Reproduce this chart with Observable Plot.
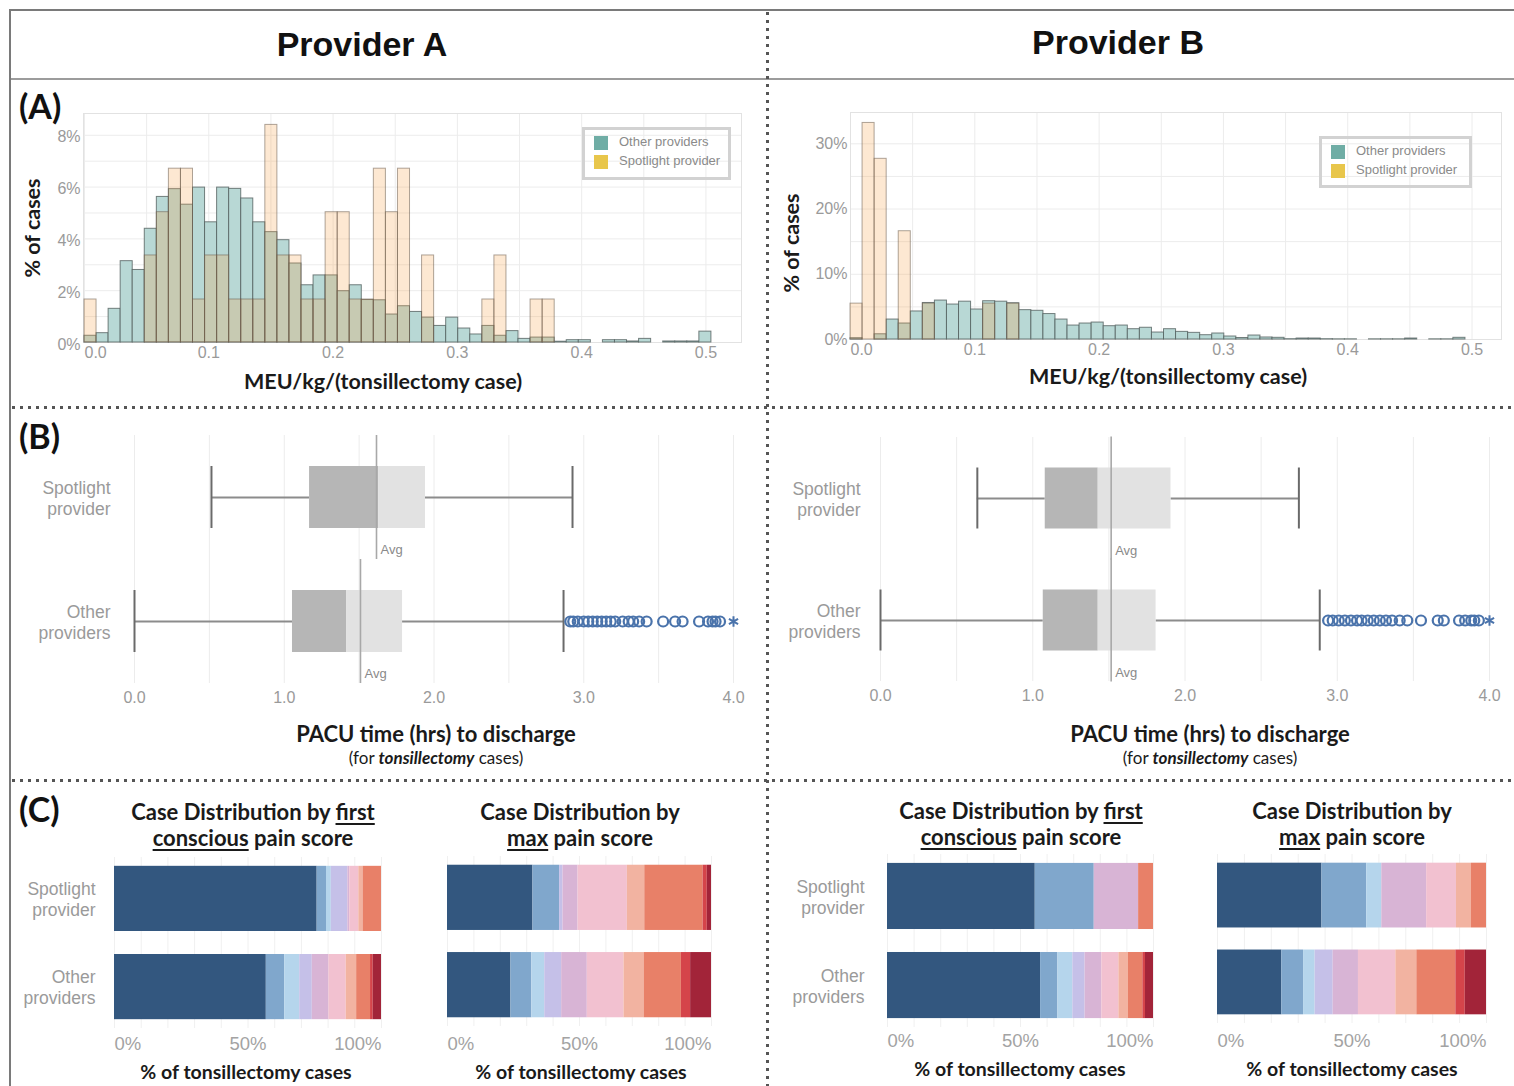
<!DOCTYPE html>
<html><head><meta charset="utf-8">
<script src="https://cdn.jsdelivr.net/npm/d3@7"></script>
<script src="https://cdn.jsdelivr.net/npm/@observablehq/plot@0.6"></script>
<style>
html,body{margin:0;padding:0;background:#fff;overflow:hidden;}
#root{position:relative;width:1514px;height:1086px;font-family:Lato,"Liberation Sans",sans-serif;}
.abs{position:absolute;}
.c{position:absolute;transform:translate(-50%,-50%);white-space:nowrap;text-align:center;color:#1a1a1a;}
.b{font-weight:700;}
.hdr{font-size:34px;font-weight:700;font-family:"Liberation Sans",Arial,sans-serif;color:#111;}
.pl{font-size:34px;font-weight:700;position:absolute;color:#111;transform:translateY(-50%);}
.ax{font-size:21.5px;font-weight:700;}
.ax2{font-size:22px;font-weight:700;}
.sub{font-size:17px;}
.ct{font-size:22px;font-weight:700;line-height:26px;}
.cx{font-size:19.5px;font-weight:700;}
u{text-decoration-thickness:2px;text-underline-offset:3px;}
.legend{position:absolute;border:3px solid #d2d2d2;box-sizing:border-box;font-family:"Liberation Sans",Arial,sans-serif;font-size:13px;color:#8a8a8a;}
.legend .it{position:absolute;left:9px;white-space:nowrap;}
.legend .sw{display:inline-block;width:14px;height:14px;vertical-align:middle;margin-right:11px;}
.vdot{position:absolute;width:3px;background:repeating-linear-gradient(to bottom,#555 0 3px,transparent 3px 8px);}
.hdot{position:absolute;height:3px;background:repeating-linear-gradient(to right,#555 0 3px,transparent 3px 8px);}
</style></head>
<body><div id="root"></div>
<script>
// ---------- DATA ----------
const binWidth = 0.0097;
const histXTicks = [0.1, 0.2, 0.3, 0.4, 0.5];
const histXGrid = [0, 0.05, 0.1, 0.15, 0.2, 0.25, 0.3, 0.35, 0.4, 0.45, 0.5];
const histATicksY = [0, 2, 4, 6, 8];
const histAGridY = [1, 2, 3, 4, 5, 6, 7, 8];
const histBTicksY = [0, 10, 20, 30];
const histBGridY = [5, 10, 15, 20, 25, 30];

// Provider A: % of cases per MEU/kg bin
const aOther = [0.26,0.36,1.30,3.14,2.80,4.39,5.62,5.92,5.32,5.98,4.64,5.98,5.93,5.56,4.64,4.26,3.95,3.05,2.21,2.59,2.59,1.98,2.21,1.64,1.63,1.08,1.40,1.18,0.96,0.64,0.96,0.54,0.31,0.64,0.26,0.44,0.14,0.19,0.19,0.03,0.09,0.09,0,0.09,0.09,0.04,0.14,0,0.04,0.04,0.04,0.42];
const aSpot  = [1.66,0,0,0,0,3.36,5.03,6.71,6.71,1.66,3.36,3.36,1.66,1.66,1.66,8.40,3.36,3.36,1.66,1.66,5.03,5.03,1.66,1.66,6.71,5.03,6.71,0,3.36,0,0,0,0,1.66,3.36,0,0,1.66,1.66,0,0,0,0,0,0,0,0,0,0,0,0,0];
// Provider B
const bOther = [0.2,0,0.8,3.06,2.45,4.3,5.6,5.97,5.36,5.8,4.6,5.87,5.8,5.56,4.5,4.4,3.9,3.06,2.14,2.45,2.6,2.04,2.14,1.58,1.8,1.07,1.58,1.17,1.02,0.66,0.92,0.46,0.23,0.61,0.31,0.26,0.05,0.15,0.15,0.05,0.03,0.03,0,0.03,0.03,0.03,0.15,0,0.03,0.03,0.26,0];
const bSpot  = [5.5,33.2,27.7,0,16.6,0,5.5,0,0,0,0,5.5,0,5.5,0,0,0,0,0,0,0,0,0,0,0,0,0,0,0,0,0,0,0,0,0,0,0,0,0,0,0,0,0,0,0,0,0,0,0,0,0,0];

// Box plots (PACU hours)
const groups = ["Spotlight provider", "Other providers"];
const boxXTicks = [0, 1, 2, 3, 4];
const boxXGrid = [0, 0.5, 1, 1.5, 2, 2.5, 3, 3.5, 4];
const aLow = [0.514, 0], aQ1 = [1.169, 1.055], aMed = [1.63, 1.416], aQ3 = [1.943, 1.79], aHigh = [2.925, 2.865], aAvg = [1.616, 1.509];
const bLow = [0.636, 0], bQ1 = [1.082, 1.069], bMed = [1.43, 1.43], bQ3 = [1.908, 1.81], bHigh = [2.748, 2.885], bAvg = [1.515, 1.515];
const aOutliers = [2.91,2.93,2.96,3.0,3.03,3.06,3.09,3.12,3.15,3.18,3.21,3.26,3.3,3.33,3.37,3.42,3.53,3.61,3.66,3.77,3.83,3.86,3.88,3.91];
const aExtreme = [4.0];
const bOutliers = [2.94,2.97,3.01,3.05,3.09,3.13,3.16,3.2,3.24,3.28,3.32,3.36,3.41,3.46,3.55,3.66,3.7,3.8,3.84,3.88,3.9,3.93];
const bExtreme = [4.0];

// Pain score distributions (% of cases, scores 0..9)
const scores = [0,1,2,3,4,5,6,7,8,9];
const painColors = ["#33577f","#80a7cc","#b5d5ec","#c5c0e8","#d8b4d5","#f2c1d0","#f2b3a1","#e88068","#d5444a","#a22439"];
const aFirstSpot  = [75.9,3.5,1.8,6.2,0.7,3.4,1.6,6.9,0,0];
const aFirstOther = [56.8,6.9,5.6,4.7,6.2,6.5,3.9,5.2,1.0,3.1];
const aMaxSpot    = [32.4,10.1,0,1.3,5.7,18.7,6.6,22.1,1.6,1.6];
const aMaxOther   = [24.0,7.9,4.9,6.4,9.7,13.9,7.6,14.1,3.5,7.9];
const bFirstSpot  = [55.6,22.2,0,0,16.7,0,0,5.6,0,0];
const bFirstOther = [57.5,6.5,5.6,4.6,6.3,6.4,3.6,5.4,1.0,3.0];
const bMaxSpot    = [38.9,16.7,5.6,0,16.7,11.1,5.6,5.6,0,0];
const bMaxOther   = [23.9,8.1,4.3,6.7,9.4,13.9,7.8,14.5,3.5,7.9];
const pctTicksStart = [0], pctTicksMid = [0.5], pctTicksEnd = [1];
const pctGrid = [0,0.1,0.2,0.3,0.4,0.5,0.6,0.7,0.8,0.9,1];

// ---------- LAYOUT HELPERS ----------
const root = document.getElementById("root");
function place(node, left, top){ const d=document.createElement("div"); d.className="abs"; d.style.left=left+"px"; d.style.top=top+"px"; d.appendChild(node); root.appendChild(d); }
function html(h){ root.insertAdjacentHTML("beforeend", h); }
const tickFont = "'Liberation Sans', Arial, sans-serif";
const baseStyle = {background:"transparent", fontFamily: tickFont, overflow:"visible"};
const gray = "#9a9a9a";

// frame decorations
html(`<div class="abs" style="left:9px;top:9px;width:2px;height:1077px;background:#7a7a7a"></div>`);
html(`<div class="abs" style="left:9px;top:9px;width:1505px;height:2px;background:#7a7a7a"></div>`);
html(`<div class="abs" style="left:11px;top:78px;width:1503px;height:2px;background:#9c9c9c"></div>`);
html(`<div class="vdot" style="left:766px;top:12px;height:1074px"></div>`);
html(`<div class="hdot" style="left:12px;top:406px;width:1502px"></div>`);
html(`<div class="hdot" style="left:12px;top:779px;width:1502px"></div>`);

// headers and panel letters
html(`<div class="c hdr" style="left:362px;top:44px">Provider A</div>`);
html(`<div class="c hdr" style="left:1118px;top:42px">Provider B</div>`);
html(`<div class="pl" style="left:19px;top:105px">(A)</div>`);
html(`<div class="pl" style="left:19px;top:435px">(B)</div>`);
html(`<div class="pl" style="left:19px;top:808px">(C)</div>`);

// ---------- HISTOGRAMS ----------
const tealFill = "#b8d8d5";
function binRows(values){ return values.map((v,i)=>({x1:i*binWidth, x2:(i+1)*binWidth, v})).filter(d=>d.v>0); }
function hist(other, spot, opts){
  return Plot.plot({
    width: opts.width, height: opts.height,
    marginLeft: opts.ml, marginRight: opts.mr, marginTop: opts.mt, marginBottom: opts.mb,
    style: baseStyle,
    x: {domain: opts.xdomain, label: null},
    y: {domain: opts.ydomain, label: null},
    marks: [
      Plot.gridY(opts.gridY, {stroke:"#ececec", strokeOpacity:1}),
      Plot.gridX(histXGrid, {stroke:"#ececec", strokeOpacity:1}),
      Plot.frame({stroke:"#e2e2e2"}),
      Plot.rect(binRows(other), {x1:"x1", x2:"x2", y1:0, y2:"v", fill:tealFill, stroke:"#4c5857", strokeWidth:1, strokeOpacity:0.75}),
      Plot.rect(binRows(spot), {x1:"x1", x2:"x2", y1:0, y2:"v", fill:"rgb(247,160,70)", fillOpacity:0.243, stroke:"#6b5d4e", strokeWidth:1, strokeOpacity:0.55}),
      Plot.axisX([0], {tickSize:0, tickPadding:4, textAnchor:"start", tickFormat:".1f", fontSize:16, color:gray, label:null}),
      Plot.axisX(histXTicks, {tickSize:0, tickPadding:4, tickFormat:".1f", fontSize:16, color:gray, label:null}),
      Plot.axisY(opts.ticksY, {tickSize:0, tickPadding:3, tickFormat:d=>d+"%", fontSize:16, color:gray, label:null, dy: opts.ydy})
    ]
  });
}
place(hist(aOther, aSpot, {width:731, height:272, ml:68, mr:5, mt:13, mb:30, xdomain:[-0.0008,0.5286], ydomain:[0,8.84], gridY:histAGridY, ticksY:histATicksY, ydy:2}), 15, 100);
place(hist(bOther, bSpot, {width:706, height:269, ml:50, mr:5, mt:12, mb:30, xdomain:[0,0.5237], ydomain:[0,34.8], gridY:histBGridY, ticksY:histBTicksY, ydy:0}), 800, 100);

html(`<div class="c ax" style="left:32px;top:228px;transform:translate(-50%,-50%) rotate(-90deg)">% of cases</div>`);
html(`<div class="c ax" style="left:791px;top:243px;transform:translate(-50%,-50%) rotate(-90deg)">% of cases</div>`);
html(`<div class="c ax" style="left:383px;top:381px">MEU/kg/(tonsillectomy case)</div>`);
html(`<div class="c ax" style="left:1168px;top:376px">MEU/kg/(tonsillectomy case)</div>`);

function legend(left, top, w, h){
  html(`<div class="legend" style="left:${left}px;top:${top}px;width:${w}px;height:${h}px">
    <div class="it" style="top:4px"><span class="sw" style="background:#6fada5"></span>Other providers</div>
    <div class="it" style="top:23px"><span class="sw" style="background:#e8c64b"></span>Spotlight provider</div></div>`);
}
legend(582, 127, 149, 53);
legend(1319, 136, 153, 52);

// ---------- BOX PLOTS ----------
function box(low,q1,med,q3,high,avg,outs,extreme,opts){
  const rows = groups.map((g,i)=>({g, low:low[i], q1:q1[i], med:med[i], q3:q3[i], high:high[i], avg:avg[i]}));
  const blue = "#4a73ab";
  return Plot.plot({
    width: opts.width, height: opts.height,
    marginLeft: opts.ml, marginRight: opts.mr, marginTop: opts.mt, marginBottom: opts.mb,
    style: baseStyle,
    x: {domain:[0,4], label:null},
    y: {type:"band", domain:groups, paddingInner:0.5, paddingOuter:0.25, round:false, label:null},
    marks: [
      Plot.gridX(boxXGrid, {stroke:"#ececec", strokeOpacity:1}),
      Plot.ruleY(rows, {y:"g", x1:"low", x2:"q1", stroke:"#8c8c8c", strokeWidth:2}),
      Plot.ruleY(rows, {y:"g", x1:"q3", x2:"high", stroke:"#8c8c8c", strokeWidth:2}),
      Plot.barX(rows, {y:"g", x1:"q1", x2:"med", fill:"#b6b6b6"}),
      Plot.barX(rows, {y:"g", x1:"med", x2:"q3", fill:"#e2e2e2"}),
      Plot.tickX(rows, {y:"g", x:"low", stroke:"#6a6a6a", strokeWidth:2}),
      Plot.tickX(rows, {y:"g", x:"high", stroke:"#6a6a6a", strokeWidth:2}),
      Plot.tickX(rows, {y:"g", x:"avg", stroke:"#a8a8a8", strokeWidth:1.6, insetTop:-31, insetBottom:-31}),
      Plot.text(rows, {y:"g", x:"avg", text:()=>"Avg", dx:4, dy:52, textAnchor:"start", fontSize:13, fill:"#8a8a8a"}),
      Plot.dot(outs, {x:d=>d, y:()=>groups[1], r:5, stroke:blue, strokeWidth:2.2, fill:"none"}),
      Plot.dot(extreme, {x:d=>d, y:()=>groups[1], symbol:"asterisk", r:5, stroke:blue, strokeWidth:2}),
      Plot.axisX(boxXTicks, {tickSize:0, tickPadding:8, tickFormat:".1f", fontSize:16, color:gray, label:null}),
      Plot.axisY({tickSize:0, tickPadding:opts.yPad, tickFormat:d=>d.replace(" ","\n"), fontSize:17.5, lineHeight:1.2, color:gray, label:null})
    ]
  });
}
place(box(aLow,aQ1,aMed,aQ3,aHigh,aAvg,aOutliers,aExtreme,{width:740,height:293,ml:114,mr:27,mt:15,mb:30,yPad:24}), 20, 420);
place(box(bLow,bQ1,bMed,bQ3,bHigh,bAvg,bOutliers,bExtreme,{width:744,height:291,ml:110,mr:25,mt:17,mb:30,yPad:20}), 770, 420);

html(`<div class="c ax2" style="left:436px;top:733px">PACU time (hrs) to discharge</div>`);
html(`<div class="c sub" style="left:436px;top:757px">(for <b><i>tonsillectomy</i></b> cases)</div>`);
html(`<div class="c ax2" style="left:1210px;top:733px">PACU time (hrs) to discharge</div>`);
html(`<div class="c sub" style="left:1210px;top:757px">(for <b><i>tonsillectomy</i></b> cases)</div>`);

// ---------- STACKED BARS ----------
function stacked(spot, other, opts){
  const rows = [];
  groups.forEach((g,gi)=>{ (gi===0?spot:other).forEach((v,i)=>rows.push({g, score:scores[i], v})); });
  const ax = {tickSize:0, tickPadding:opts.xPad, tickFormat:d3.format(".0%"), fontSize:18.5, color:"#a3a3a3", label:null};
  const marks = [
    Plot.gridX(pctGrid, {stroke:"#f0f0f0", strokeOpacity:1}),
    Plot.barX(rows, {x:"v", y:"g", fill:"score", offset:"normalize"}),
    Plot.axisX(pctTicksStart, {...ax, textAnchor:"start"}),
    Plot.axisX(pctTicksMid, ax),
    Plot.axisX(pctTicksEnd, {...ax, textAnchor:"end"})
  ];
  if (opts.yPad != null) marks.push(Plot.axisY({tickSize:0, tickPadding:opts.yPad, tickFormat:d=>d.replace(" ","\n"), fontSize:17.5, lineHeight:1.2, color:gray, label:null}));
  return Plot.plot({
    width: opts.width, height: opts.height,
    marginLeft: opts.ml, marginRight: opts.mr, marginTop: opts.mt, marginBottom: opts.mb,
    style: baseStyle,
    x: {domain:[0,1], label:null},
    y: {type:"band", domain:groups, paddingInner:opts.pi, paddingOuter:0.1, round:false, label:null, axis: opts.yPad == null ? null : undefined},
    color: {type:"ordinal", domain:scores, range:painColors},
    marks
  });
}
place(stacked(aFirstSpot, aFirstOther, {width:376, height:208, ml:99, mr:10, mt:7, mb:30, pi:0.261, xPad:8, yPad:19}), 15, 850);
place(stacked(aMaxSpot, aMaxOther, {width:284, height:206, ml:10, mr:10, mt:6, mb:30, pi:0.253, xPad:10}), 437, 850);
place(stacked(bFirstSpot, bFirstOther, {width:388, height:207, ml:112, mr:10, mt:4, mb:30, pi:0.258, xPad:6, yPad:23}), 775, 850);
place(stacked(bMaxSpot, bMaxOther, {width:289, height:203, ml:10, mr:10, mt:4, mb:30, pi:0.254, xPad:10}), 1207, 850);

html(`<div class="c ct" style="left:253px;top:825px">Case Distribution by <u>first</u><br><u>conscious</u> pain score</div>`);
html(`<div class="c ct" style="left:580px;top:825px">Case Distribution by<br><u>max</u> pain score</div>`);
html(`<div class="c ct" style="left:1021px;top:824px">Case Distribution by <u>first</u><br><u>conscious</u> pain score</div>`);
html(`<div class="c ct" style="left:1352px;top:824px">Case Distribution by<br><u>max</u> pain score</div>`);
html(`<div class="c cx" style="left:246px;top:1071px">% of tonsillectomy cases</div>`);
html(`<div class="c cx" style="left:581px;top:1071px">% of tonsillectomy cases</div>`);
html(`<div class="c cx" style="left:1020px;top:1068px">% of tonsillectomy cases</div>`);
html(`<div class="c cx" style="left:1352px;top:1068px">% of tonsillectomy cases</div>`);
</script>
</body></html>
